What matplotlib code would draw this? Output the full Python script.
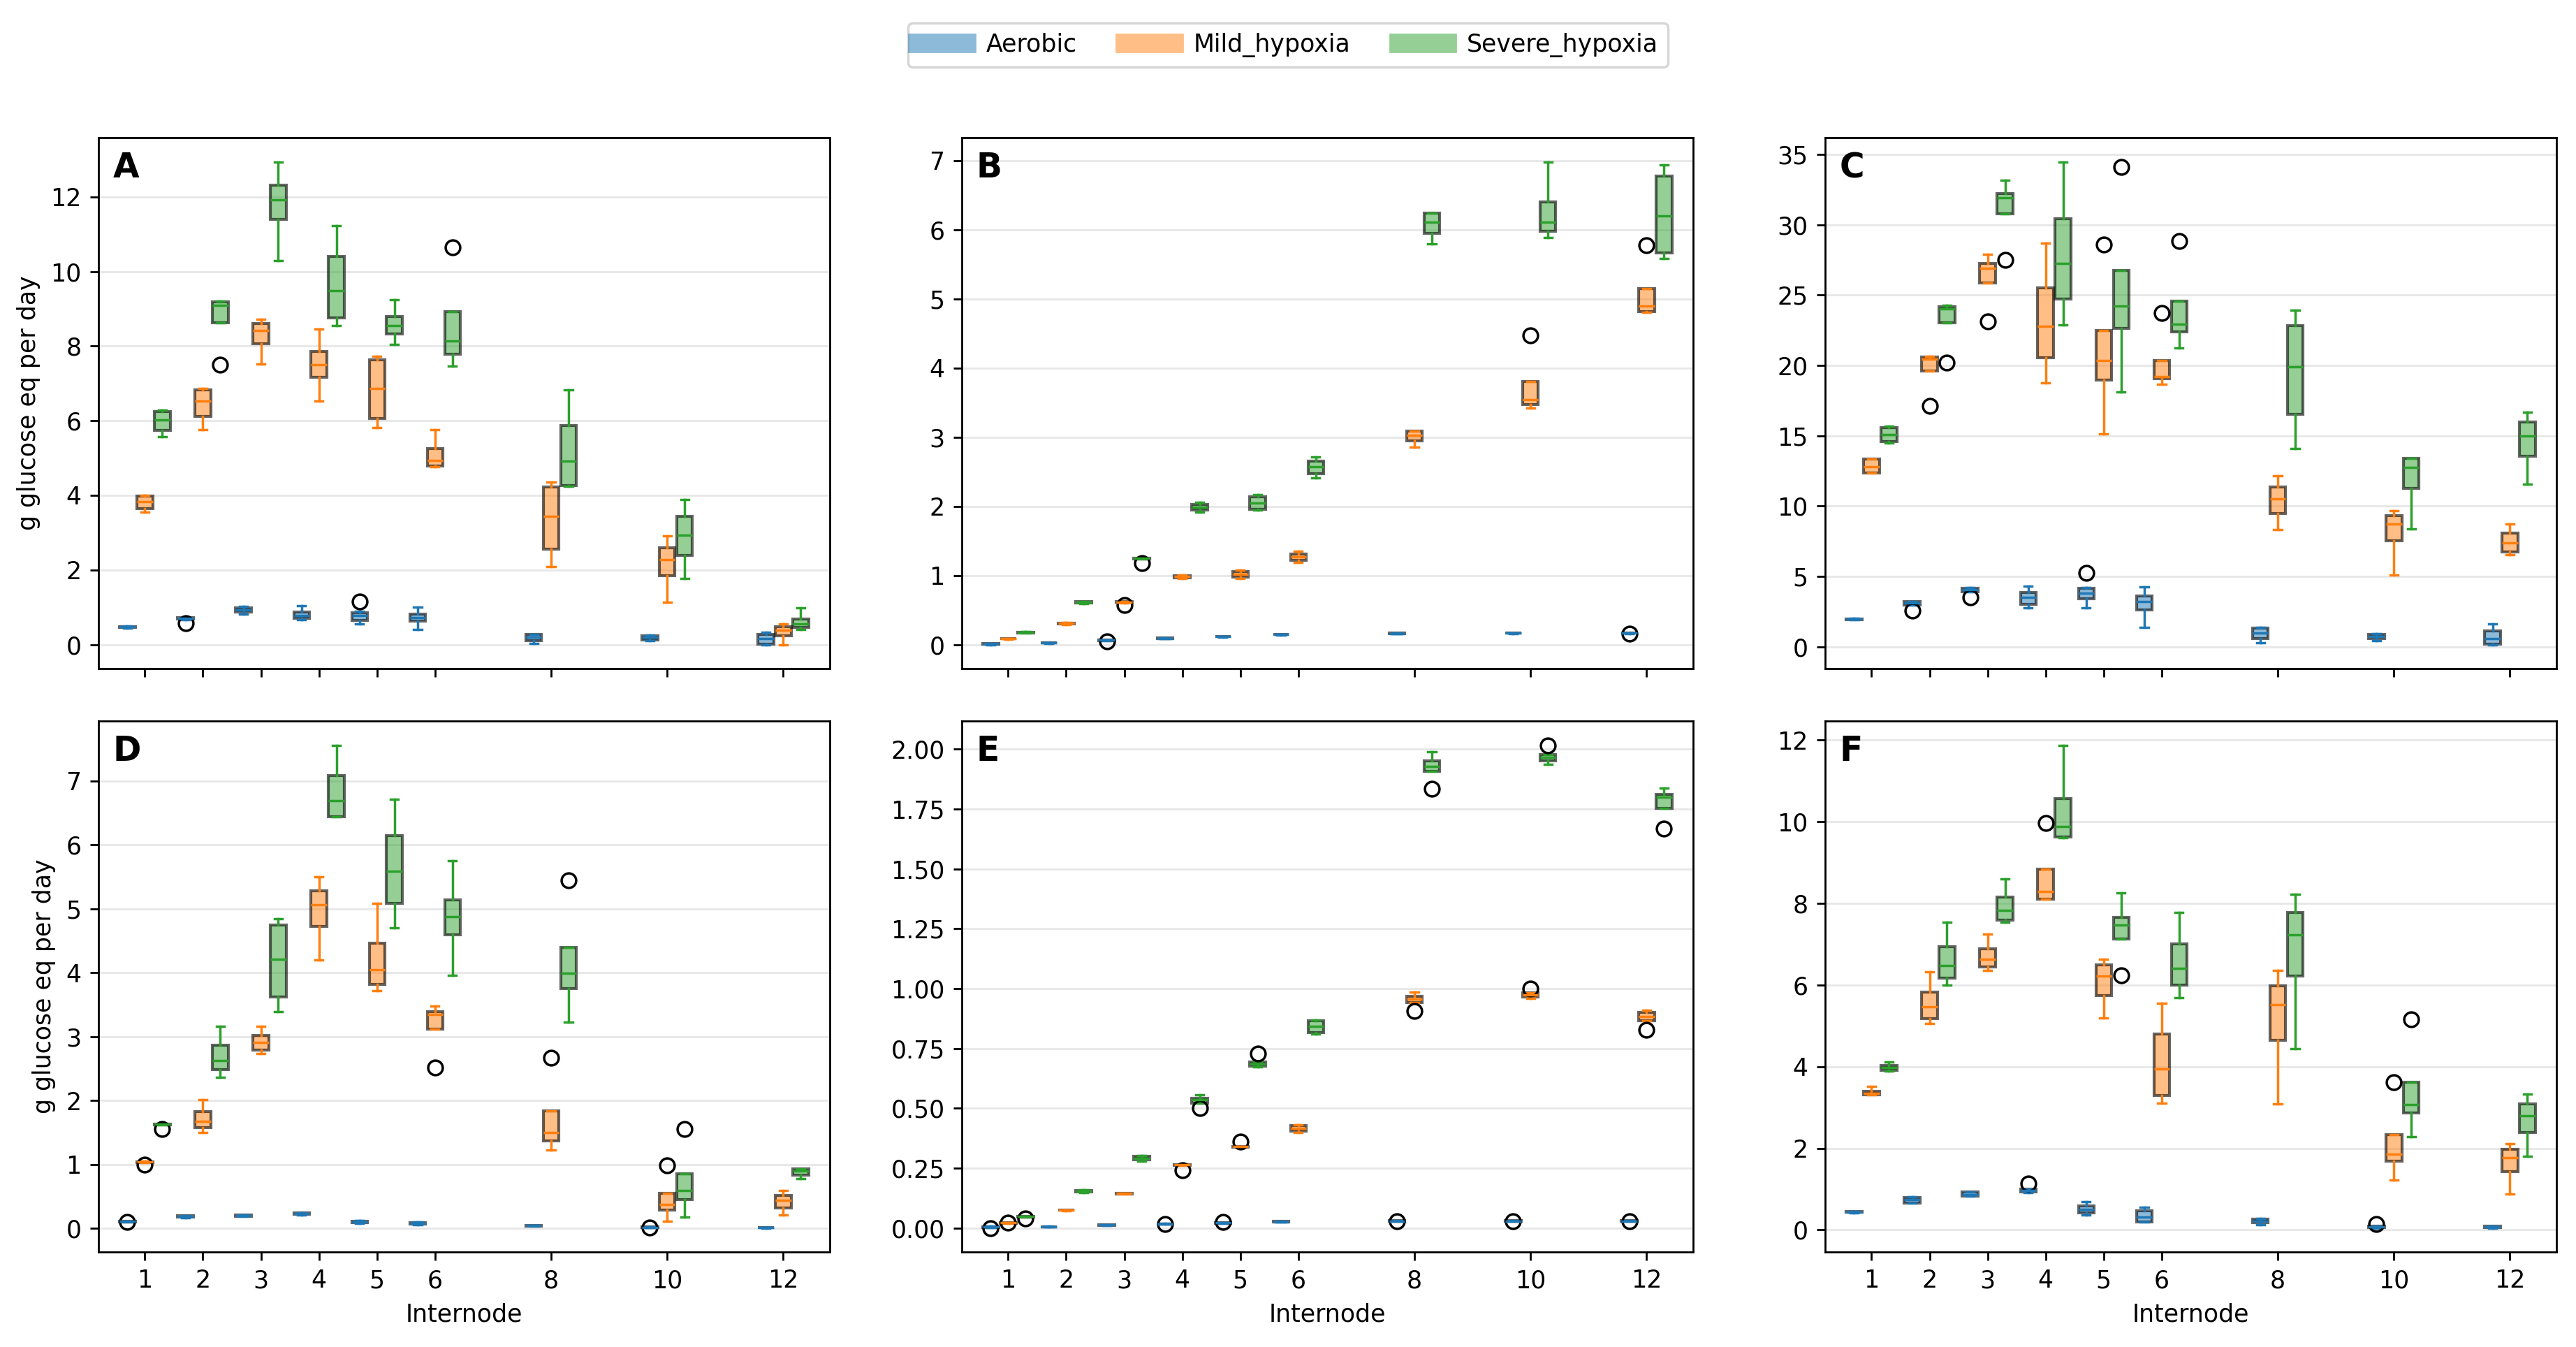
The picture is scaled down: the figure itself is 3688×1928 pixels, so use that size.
import matplotlib
matplotlib.use("Agg")
import matplotlib.pyplot as plt
from matplotlib.colors import to_rgba
from matplotlib.lines import Line2D

# -----------------------------------------------------------------------------
# Data: box statistics per internode, (whislo, q1, median, q3, whishi)
# -----------------------------------------------------------------------------
internodes = [1, 2, 3, 4, 5, 6, 8, 10, 12]
conditions = ['Aerobic', 'Mild_hypoxia', 'Severe_hypoxia']
colors = ['#1f77b4', '#ff7f0e', '#2ca02c']
panel_letters = ['A', 'B', 'C', 'D', 'E', 'F']

A_aerobic = [(0.44, 0.45, 0.47, 0.48, 0.49), (0.66, 0.68, 0.70, 0.72, 0.73),
             (0.81, 0.87, 0.93, 0.98, 1.02), (0.67, 0.70, 0.78, 0.87, 1.04),
             (0.55, 0.65, 0.77, 0.86, 0.89), (0.40, 0.63, 0.72, 0.82, 1.01),
             (0.03, 0.10, 0.19, 0.27, 0.28), (0.10, 0.13, 0.19, 0.24, 0.25),
             (0.00, 0.01, 0.16, 0.28, 0.32)]
A_mild = [(3.54, 3.65, 3.83, 3.98, 4.00), (5.75, 6.12, 6.53, 6.82, 6.86),
          (7.52, 8.07, 8.41, 8.61, 8.71), (6.52, 7.16, 7.51, 7.85, 8.45),
          (5.81, 6.06, 6.86, 7.64, 7.73), (4.76, 4.78, 4.94, 5.25, 5.76),
          (2.09, 2.55, 3.44, 4.23, 4.36), (1.14, 1.84, 2.28, 2.59, 2.92),
          (0.00, 0.24, 0.38, 0.47, 0.55)]
A_severe = [(5.57, 5.74, 6.02, 6.24, 6.28), (8.62, 8.62, 9.10, 9.18, 9.20),
            (10.30, 11.40, 11.93, 12.31, 12.94), (8.55, 8.76, 9.49, 10.40, 11.22),
            (8.04, 8.32, 8.55, 8.80, 9.25), (7.47, 7.79, 8.13, 8.92, 8.92),
            (4.25, 4.26, 4.91, 5.87, 6.82), (1.77, 2.38, 2.93, 3.43, 3.88),
            (0.41, 0.45, 0.56, 0.69, 0.98)]
A_fliers = [('Aerobic', 2, 0.57), ('Aerobic', 5, 1.16),
            ('Severe_hypoxia', 2, 7.51), ('Severe_hypoxia', 6, 10.65)]

B_aerobic = [(0.005, 0.01, 0.015, 0.02, 0.022), (0.025, 0.028, 0.03, 0.033, 0.035),
             (0.06, 0.063, 0.066, 0.07, 0.072), (0.09, 0.092, 0.095, 0.098, 0.10),
             (0.115, 0.118, 0.12, 0.123, 0.125), (0.145, 0.148, 0.15, 0.153, 0.155),
             (0.16, 0.163, 0.165, 0.168, 0.17), (0.165, 0.168, 0.17, 0.173, 0.175),
             (0.165, 0.168, 0.17, 0.173, 0.175)]
B_mild = [(0.085, 0.088, 0.09, 0.093, 0.095), (0.295, 0.30, 0.31, 0.318, 0.32),
          (0.61, 0.615, 0.62, 0.625, 0.63), (0.96, 0.97, 0.99, 1.00, 1.01),
          (0.96, 0.98, 1.02, 1.06, 1.08), (1.19, 1.22, 1.27, 1.31, 1.35),
          (2.86, 2.95, 3.03, 3.09, 3.09), (3.42, 3.47, 3.54, 3.81, 3.81),
          (4.81, 4.82, 4.90, 5.15, 5.15)]
B_severe = [(0.17, 0.175, 0.18, 0.185, 0.19), (0.60, 0.605, 0.615, 0.625, 0.63),
            (1.24, 1.245, 1.25, 1.255, 1.26), (1.92, 1.95, 1.99, 2.03, 2.06),
            (1.95, 1.96, 2.05, 2.14, 2.17), (2.41, 2.47, 2.57, 2.66, 2.72),
            (5.79, 5.95, 6.11, 6.24, 6.24), (5.89, 5.98, 6.11, 6.40, 6.98),
            (5.58, 5.66, 6.20, 6.77, 6.94)]
B_fliers = [('Aerobic', 3, 0.05), ('Mild_hypoxia', 3, 0.58), ('Severe_hypoxia', 3, 1.18),
            ('Mild_hypoxia', 10, 4.47), ('Mild_hypoxia', 12, 5.77), ('Aerobic', 12, 0.16)]

C_aerobic = [(1.90, 1.92, 1.95, 1.98, 2.00), (2.97, 2.98, 3.12, 3.20, 3.23),
             (3.90, 3.92, 4.08, 4.18, 4.20), (2.76, 3.04, 3.49, 3.88, 4.32),
             (2.76, 3.43, 3.82, 4.14, 4.20), (1.40, 2.60, 3.23, 3.62, 4.27),
             (0.26, 0.57, 0.96, 1.35, 1.40), (0.42, 0.57, 0.75, 0.88, 0.91),
             (0.16, 0.18, 0.57, 1.14, 1.64)]
C_mild = [(12.33, 12.33, 12.80, 13.32, 13.35), (19.60, 19.60, 20.45, 20.60, 20.63),
          (25.88, 25.88, 26.92, 27.24, 27.90), (18.76, 20.55, 22.79, 25.50, 28.70),
          (15.14, 18.96, 20.37, 22.50, 22.50), (18.68, 19.04, 19.20, 20.34, 20.34),
          (8.32, 9.47, 10.51, 11.34, 12.17), (5.12, 7.52, 8.71, 9.31, 9.65),
          (6.53, 6.76, 7.39, 8.06, 8.71)]
C_severe = [(14.49, 14.57, 15.06, 15.58, 15.66), (23.02, 23.02, 24.01, 24.19, 24.25),
            (30.77, 30.77, 31.92, 32.23, 33.17), (22.87, 24.74, 27.24, 30.41, 34.47),
            (18.13, 22.61, 24.22, 26.77, 26.77), (21.23, 22.37, 22.94, 24.58, 24.58),
            (14.10, 16.52, 19.90, 22.84, 23.93), (8.38, 11.24, 12.75, 13.37, 13.37),
            (11.58, 13.53, 14.98, 15.97, 16.65)]
C_fliers = [('Aerobic', 2, 2.58), ('Aerobic', 3, 3.49), ('Aerobic', 5, 5.23),
            ('Mild_hypoxia', 2, 17.14), ('Mild_hypoxia', 3, 23.13),
            ('Mild_hypoxia', 5, 28.59), ('Mild_hypoxia', 6, 23.70),
            ('Severe_hypoxia', 2, 20.19), ('Severe_hypoxia', 3, 27.50),
            ('Severe_hypoxia', 5, 34.08), ('Severe_hypoxia', 6, 28.82)]

D_aerobic = [(0.105, 0.108, 0.11, 0.115, 0.118), (0.17, 0.18, 0.19, 0.20, 0.20),
             (0.19, 0.195, 0.20, 0.21, 0.21), (0.21, 0.22, 0.23, 0.245, 0.25),
             (0.08, 0.09, 0.10, 0.115, 0.12), (0.06, 0.07, 0.08, 0.095, 0.10),
             (0.04, 0.042, 0.045, 0.048, 0.05), (0.015, 0.018, 0.02, 0.023, 0.025),
             (0.01, 0.012, 0.015, 0.017, 0.02)]
D_mild = [(1.03, 1.035, 1.04, 1.045, 1.05), (1.50, 1.58, 1.68, 1.83, 2.02),
          (2.74, 2.79, 2.91, 3.02, 3.16), (4.20, 4.73, 5.06, 5.28, 5.50),
          (3.72, 3.82, 4.05, 4.46, 5.09), (3.12, 3.12, 3.35, 3.39, 3.48),
          (1.23, 1.37, 1.50, 1.84, 1.84), (0.11, 0.29, 0.38, 0.55, 0.55),
          (0.21, 0.32, 0.44, 0.52, 0.59)]
D_severe = [(1.62, 1.625, 1.63, 1.635, 1.64), (2.36, 2.48, 2.63, 2.87, 3.16),
            (3.39, 3.62, 4.21, 4.75, 4.85), (6.44, 6.44, 6.69, 7.09, 7.56),
            (4.70, 5.09, 5.59, 6.15, 6.71), (3.96, 4.59, 4.88, 5.14, 5.75),
            (3.23, 3.75, 3.99, 4.40, 4.40), (0.18, 0.45, 0.60, 0.86, 0.86),
            (0.78, 0.83, 0.90, 0.93, 0.93)]
D_fliers = [('Aerobic', 1, 0.10), ('Mild_hypoxia', 1, 1.00), ('Severe_hypoxia', 1, 1.56),
            ('Mild_hypoxia', 6, 2.52), ('Mild_hypoxia', 8, 2.67), ('Severe_hypoxia', 8, 5.45),
            ('Aerobic', 10, 0.015), ('Mild_hypoxia', 10, 0.99), ('Severe_hypoxia', 10, 1.56)]

E_aerobic = [(0.002, 0.003, 0.004, 0.005, 0.006), (0.004, 0.0045, 0.005, 0.0055, 0.006),
             (0.011, 0.0115, 0.012, 0.0125, 0.013), (0.016, 0.0165, 0.017, 0.0175, 0.018),
             (0.020, 0.0205, 0.021, 0.0215, 0.022), (0.025, 0.0255, 0.026, 0.0265, 0.027),
             (0.028, 0.0285, 0.029, 0.0295, 0.030), (0.028, 0.0285, 0.029, 0.0295, 0.030),
             (0.028, 0.0285, 0.029, 0.0295, 0.030)]
E_mild = [(0.020, 0.0205, 0.021, 0.0215, 0.022), (0.073, 0.0735, 0.074, 0.0745, 0.075),
          (0.142, 0.143, 0.144, 0.145, 0.146), (0.261, 0.262, 0.263, 0.264, 0.265),
          (0.337, 0.338, 0.339, 0.340, 0.341), (0.400, 0.403, 0.415, 0.427, 0.430),
          (0.943, 0.943, 0.955, 0.969, 0.986), (0.958, 0.965, 0.974, 0.983, 0.983),
          (0.867, 0.867, 0.882, 0.900, 0.910)]
E_severe = [(0.046, 0.0465, 0.047, 0.0475, 0.048), (0.147, 0.150, 0.154, 0.157, 0.159),
            (0.280, 0.284, 0.292, 0.298, 0.301), (0.522, 0.522, 0.536, 0.541, 0.557),
            (0.673, 0.677, 0.685, 0.692, 0.695), (0.811, 0.817, 0.843, 0.865, 0.870),
            (1.907, 1.907, 1.929, 1.951, 1.990), (1.938, 1.952, 1.967, 1.978, 1.978),
            (1.754, 1.754, 1.799, 1.811, 1.839)]
E_fliers = [('Aerobic', 1, 0.0), ('Mild_hypoxia', 1, 0.021), ('Severe_hypoxia', 1, 0.040),
            ('Aerobic', 4, 0.016), ('Mild_hypoxia', 4, 0.242), ('Severe_hypoxia', 4, 0.502),
            ('Aerobic', 5, 0.024), ('Mild_hypoxia', 5, 0.360), ('Severe_hypoxia', 5, 0.727),
            ('Aerobic', 8, 0.029), ('Mild_hypoxia', 8, 0.907), ('Severe_hypoxia', 8, 1.834),
            ('Aerobic', 10, 0.029), ('Mild_hypoxia', 10, 1.000), ('Severe_hypoxia', 10, 2.017),
            ('Aerobic', 12, 0.029), ('Mild_hypoxia', 12, 0.827), ('Severe_hypoxia', 12, 1.668)]

F_aerobic = [(0.42, 0.43, 0.44, 0.45, 0.45), (0.65, 0.66, 0.74, 0.80, 0.82),
             (0.83, 0.83, 0.87, 0.93, 0.94), (0.92, 0.93, 0.97, 1.00, 1.00),
             (0.36, 0.41, 0.51, 0.59, 0.69), (0.19, 0.20, 0.32, 0.47, 0.56),
             (0.13, 0.18, 0.22, 0.26, 0.29), (0.05, 0.06, 0.08, 0.10, 0.10),
             (0.05, 0.06, 0.07, 0.09, 0.09)]
F_mild = [(3.31, 3.31, 3.35, 3.40, 3.51), (5.06, 5.18, 5.46, 5.83, 6.32),
          (6.35, 6.44, 6.63, 6.88, 7.24), (8.10, 8.10, 8.28, 8.83, 8.83),
          (5.19, 5.74, 6.21, 6.50, 6.62), (3.11, 3.30, 3.95, 4.79, 5.55),
          (3.09, 4.65, 5.51, 5.97, 6.35), (1.22, 1.68, 1.86, 2.33, 2.33),
          (0.88, 1.43, 1.77, 1.97, 2.12)]
F_severe = [(3.89, 3.91, 3.98, 4.03, 4.12), (6.00, 6.16, 6.48, 6.94, 7.54),
            (7.54, 7.59, 7.83, 8.15, 8.60), (9.60, 9.63, 9.88, 10.57, 11.87),
            (7.13, 7.13, 7.46, 7.65, 8.26), (5.68, 5.99, 6.41, 7.00, 7.78),
            (4.44, 6.22, 7.23, 7.77, 8.22), (2.28, 2.86, 3.07, 3.61, 3.61),
            (1.80, 2.38, 2.79, 3.09, 3.32)]
F_fliers = [('Aerobic', 4, 1.14), ('Mild_hypoxia', 4, 9.96), ('Severe_hypoxia', 5, 6.24),
            ('Aerobic', 10, 0.14), ('Mild_hypoxia', 10, 3.61), ('Severe_hypoxia', 10, 5.15)]

panel_stats = [
    (A_aerobic, A_mild, A_severe, A_fliers),
    (B_aerobic, B_mild, B_severe, B_fliers),
    (C_aerobic, C_mild, C_severe, C_fliers),
    (D_aerobic, D_mild, D_severe, D_fliers),
    (E_aerobic, E_mild, E_severe, E_fliers),
    (F_aerobic, F_mild, F_severe, F_fliers),
]

offsets = [-0.3, 0.0, 0.3]
BOX_WIDTH = 0.27

# -----------------------------------------------------------------------------
# Figure
# -----------------------------------------------------------------------------
DPI = 250
fig, axes = plt.subplots(2, 3, figsize=(3688 / DPI, 1928 / DPI), dpi=DPI, sharex=True)
fig.subplots_adjust(left=0.0382, right=0.9924, bottom=0.0705, top=0.8978,
                    wspace=0.1805, hspace=0.0987)

for idx, ax in enumerate(axes.flat):
    *groups, fliers = panel_stats[idx]
    for ci, (cond, boxes) in enumerate(zip(conditions, groups)):
        c = colors[ci]
        stats = []
        for node, (lo, q1, med, q3, hi) in zip(internodes, boxes):
            fl = [v for (fc, fn, v) in fliers if fc == cond and fn == node]
            stats.append(dict(whislo=lo, q1=q1, med=med, q3=q3, whishi=hi, fliers=fl))
        ax.bxp(stats, positions=[n + offsets[ci] for n in internodes],
               widths=BOX_WIDTH, patch_artist=True, manage_ticks=False,
               boxprops=dict(facecolor=to_rgba(c, 0.5), edgecolor=(0, 0, 0, 0.6),
                             linewidth=1.2),
               medianprops=dict(color=c, linewidth=1.0),
               whiskerprops=dict(color=c, linewidth=1.0),
               capprops=dict(color=c, linewidth=1.0),
               flierprops=dict(marker='o', markerfacecolor='none',
                               markeredgecolor='black', markersize=6))

    ax.set_xlim(0.2, 12.8)
    ax.set_xticks(internodes)
    ax.set_xticklabels([str(n) for n in internodes])
    ax.grid(axis='y', alpha=0.3)
    ax.set_axisbelow(True)
    ax.text(0.02, 0.975, panel_letters[idx], transform=ax.transAxes,
            ha='left', va='top', fontsize=14, fontweight='bold')
    if idx % 3 == 0:
        ax.set_ylabel('g glucose eq per day')
    if idx >= 3:
        ax.set_xlabel('Internode')

handles = [Line2D([0], [0], color=to_rgba(c, 0.5), linewidth=8) for c in colors]
fig.legend(handles, conditions, loc='upper center', bbox_to_anchor=(0.5, 0.992),
           ncol=3)

plt.savefig('out.png', dpi=DPI)
